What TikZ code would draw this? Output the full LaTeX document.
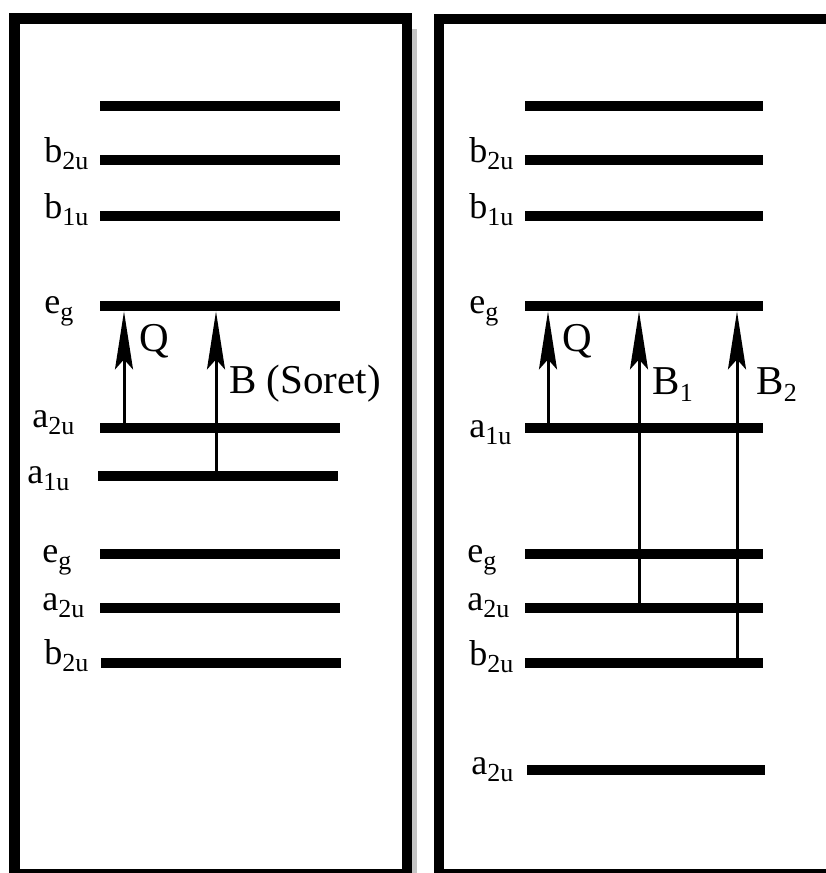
\documentclass[tikz,border=0pt]{standalone}
\usepackage{fontspec}
\setmainfont{Liberation Serif}
\usetikzlibrary{arrows.meta,positioning}
\definecolor{shadowgray}{RGB}{196,196,196}
\newcommand{\lsub}[1]{\raisebox{-3.5pt}{\fontsize{13}{13}\selectfont #1}}

\begin{document}
\begin{tikzpicture}[
  x=0.5pt,y=-0.5pt,
  frame/.style={draw=black,line width=5.25pt},
  lev/.style={fill=black,inner sep=0pt,minimum height=5pt},
  levL/.style={lev,minimum width=120pt},
  levR/.style={lev,minimum width=119pt},
  lab/.style={anchor=base west,inner sep=0pt,font=\fontsize{18}{18}\selectfont},
  tlab/.style={anchor=base west,inner sep=0pt,font=\fontsize{20.5}{20.5}\selectfont},
  trans/.style={-{Stealth[length=29pt,width=9pt,inset=5pt]},line width=1.5pt},
]
\useasboundingbox (0,0) rectangle (825,873);

% boxes
\fill[shadowgray] (412,29) rectangle (417,873);
\draw[frame] (14.5,18.5) rectangle (407,874);
\draw[frame] (439,19) rectangle (836,874);

% left: levels
\node[levL] (Ltop) at (220,106) {};
\node[levL] (Lb2u) at (220,160) {};
\node[levL] (Lb1u) at (220,216) {};
\node[levL] (Leg)  at (220,306) {};
\node[levL] (La2u) at (220,428) {};
\node[levL] (La1u) at (218,476) {};
\node[levL] (Leg2) at (220,554) {};
\node[levL] (La2u2) at (220,608) {};
\node[levL] (Lb2u2) at (221,663) {};

\node[lab] at (44,162) {b\lsub{2u}};
\node[lab] at (44,218) {b\lsub{1u}};
\node[lab] at (44,313) {e\lsub{g}};
\node[lab] at (32,427) {a\lsub{2u}};
\node[lab] at (27,483) {a\lsub{1u}};
\node[lab] at (42,562) {e\lsub{g}};
\node[lab] at (42,610) {a\lsub{2u}};
\node[lab] at (44,664) {b\lsub{2u}};

% left: transitions
\coordinate (xQL) at (124,0);
\coordinate (xBL) at (216,0);
\draw[trans] (La2u.center -| xQL) -- (Leg.south -| xQL);
\draw[trans] (La1u.center -| xBL) -- (Leg.south -| xBL);
\node[tlab] at (139,351) {Q};
\node[tlab] at (229,393) {B (Soret)};

% right: levels
\node[levR] (Rtop) at (644,106) {};
\node[levR] (Rb2u) at (644,160) {};
\node[levR] (Rb1u) at (644,216) {};
\node[levR] (Reg)  at (644,306) {};
\node[levR] (Ra1u) at (644,428) {};
\node[levR] (Reg2) at (644,554) {};
\node[levR] (Ra2u) at (644,608) {};
\node[levR] (Rb2u2) at (644,663) {};
\node[levR] (Ra2u2) at (646,770) {};

\node[lab] at (469,162) {b\lsub{2u}};
\node[lab] at (469,218) {b\lsub{1u}};
\node[lab] at (469,313) {e\lsub{g}};
\node[lab] at (469,437) {a\lsub{1u}};
\node[lab] at (467,562) {e\lsub{g}};
\node[lab] at (467,610) {a\lsub{2u}};
\node[lab] at (469,665) {b\lsub{2u}};
\node[lab] at (471,774) {a\lsub{2u}};

% right: transitions
\coordinate (xQR) at (548,0);
\coordinate (xB1) at (639,0);
\coordinate (xB2) at (737,0);
\draw[trans] (Ra1u.center -| xQR) -- (Reg.south -| xQR);
\draw[trans] (Ra2u.center -| xB1) -- (Reg.south -| xB1);
\draw[trans] (Rb2u2.center -| xB2) -- (Reg.south -| xB2);
\node[tlab] at (562,351) {Q};
\node[tlab] at (652,394) {B\lsub{1}};
\node[tlab] at (756,394) {B\lsub{2}};
\end{tikzpicture}
\end{document}
